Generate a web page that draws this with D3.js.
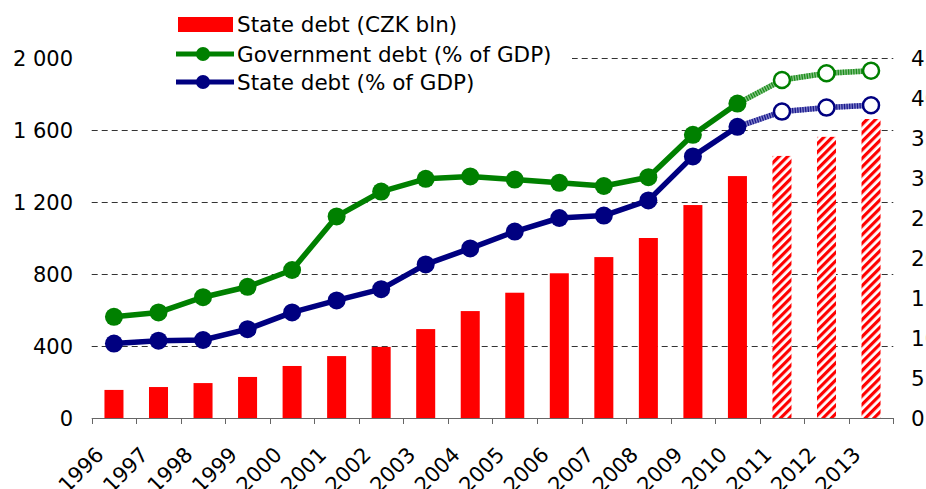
<!DOCTYPE html>
<html><head><meta charset="utf-8">
<script src="https://cdn.jsdelivr.net/npm/d3@7"></script>
<style>
html,body{margin:0;padding:0;background:#fff;overflow:hidden}
text{font-family:"DejaVu Sans",Verdana,sans-serif;fill:#000}
</style></head>
<body>
<svg id="chart" width="926" height="489"></svg>
<script>
const years = ["1996","1997","1998","1999","2000","2001","2002","2003","2004","2005","2006","2007","2008","2009","2010","2011","2012","2013"];
const forecastYears = ["2011","2012","2013"];
const stateDebtCZK = [156,172,194,228,289,344,395,494,594,696,804,894,1000,1183,1344,1456,1562,1661];
const govDebtPct = [12.65,13.2,15.1,16.4,18.5,25.2,28.3,29.9,30.2,29.8,29.4,29.0,30.1,35.4,39.3,42.25,43.1,43.4];
const stateDebtPct = [9.3,9.66,9.75,11.1,13.2,14.7,16.1,19.2,21.2,23.3,25.0,25.3,27.2,32.7,36.4,38.3,38.8,39.1];
const leftTicks = [0,400,800,1200,1600,2000];
const rightTicks = [0,5,10,15,20,25,30,35,40,45];
const legendLabels = ["State debt (CZK bln)","Government debt (% of GDP)","State debt (% of GDP)"];

const svg = d3.select("#chart");
const x0 = 91.7, x1 = 893.3, yTop = 58, yBot = 418;

const x = d3.scaleBand().domain(years).range([x0, x1]).paddingInner(0.573).paddingOuter(0.2865);
const yL = d3.scaleLinear().domain([0, 2000]).range([yBot, yTop]);
const yR = d3.scaleLinear().domain([0, 45]).range([yBot, yTop]);
const cx = d => x(d) + x.bandwidth() / 2;
const step = x.step();

const defs = svg.append("defs");
const pat = defs.append("pattern").attr("id","hatch").attr("patternUnits","userSpaceOnUse")
  .attr("width",6).attr("height",6).attr("patternTransform","rotate(45)");
pat.append("rect").attr("width",6).attr("height",6).attr("fill","#fff");
pat.append("rect").attr("width",3.2).attr("height",6).attr("fill","#ff0000");

// gridlines
svg.append("g").selectAll("line").data(leftTicks.filter(d => d > 0)).join("line")
  .attr("x1", x0).attr("x2", x1).attr("y1", d => Math.round(yL(d)) + 0.5).attr("y2", d => Math.round(yL(d)) + 0.5)
  .attr("stroke", "#333").attr("stroke-width", 1).attr("stroke-dasharray", "6 4");

// bars
svg.append("g").selectAll("rect").data(years).join("rect")
  .attr("x", d => x(d)).attr("width", x.bandwidth())
  .attr("y", (d, i) => yL(stateDebtCZK[i])).attr("height", (d, i) => yBot - yL(stateDebtCZK[i]))
  .attr("fill", d => forecastYears.includes(d) ? "url(#hatch)" : "#ff0000");

// x axis
const ax = svg.append("g");
ax.append("line").attr("x1", x0).attr("x2", x1).attr("y1", yBot + 0.5).attr("y2", yBot + 0.5).attr("stroke", "#666").attr("stroke-width", 1);
const tickXs = d3.range(years.length + 1).map(i => x0 + i * step);
ax.selectAll("line.tk").data(tickXs).join("line").attr("class","tk")
  .attr("x1", d => Math.round(d) + 0.5).attr("x2", d => Math.round(d) + 0.5)
  .attr("y1", yBot).attr("y2", yBot + 6).attr("stroke", "#666").attr("stroke-width", 1);
ax.selectAll("text").data(years).join("text")
  .attr("transform", d => `translate(${cx(d) - 9},${456}) rotate(-45)`)
  .attr("text-anchor", "end").attr("font-size", 21).text(d => d);

// left axis labels
svg.append("g").selectAll("text").data(leftTicks).join("text")
  .attr("x", 73).attr("y", d => yL(d)).attr("dy", "0.36em").attr("text-anchor", "end")
  .attr("font-size", 21).text(d => d3.format(",")(d).replace(/,/g, "\u00a0"));
// right axis labels
svg.append("g").selectAll("text").data(rightTicks).join("text")
  .attr("x", 911).attr("y", d => yR(d)).attr("dy", "0.36em").attr("text-anchor", "start")
  .attr("font-size", 21.5).text(d => d);

// lines
function drawSeries(vals, color, lightColor) {
  const g = svg.append("g");
  const pts = years.map((d, i) => ({ d, v: vals[i], f: forecastYears.includes(d) }));
  const line = d3.line().x(p => cx(p.d)).y(p => yR(p.v));
  const actual = pts.filter(p => !p.f);
  const fc = [actual[actual.length - 1]].concat(pts.filter(p => p.f));
  g.append("path").attr("d", line(fc)).attr("fill", "none").attr("stroke", lightColor).attr("stroke-width", 5.5);
  g.append("path").attr("d", line(fc)).attr("fill", "none").attr("stroke", color).attr("stroke-width", 5.5)
    .attr("stroke-dasharray", "1.3 1.3").attr("opacity", 0.8);
  g.append("path").attr("d", line(actual)).attr("fill", "none").attr("stroke", color).attr("stroke-width", 5.5).attr("stroke-linejoin","round");
  g.selectAll("circle.a").data(actual).join("circle").attr("class","a")
    .attr("cx", p => cx(p.d)).attr("cy", p => yR(p.v)).attr("r", 9).attr("fill", color);
  g.selectAll("circle.f").data(pts.filter(p => p.f)).join("circle").attr("class","f")
    .attr("cx", p => cx(p.d)).attr("cy", p => yR(p.v)).attr("r", 8).attr("fill", "#fff").attr("stroke", color).attr("stroke-width", 2.5);
}
drawSeries(govDebtPct, "#008000", "#86c386");
drawSeries(stateDebtPct, "#000080", "#8080c8");

// legend
const lg = svg.append("g");
lg.append("rect").attr("x", 88).attr("y", 4).attr("width", 484).attr("height", 100).attr("fill", "#fff");
lg.append("rect").attr("x", 178).attr("y", 17).attr("width", 55).attr("height", 15).attr("fill", "#ff0000");
[["#008000", 54], ["#000080", 82]].forEach(([c, yy]) => {
  lg.append("line").attr("x1", 176).attr("x2", 234).attr("y1", yy).attr("y2", yy).attr("stroke", c).attr("stroke-width", 5);
  lg.append("circle").attr("cx", 203).attr("cy", yy).attr("r", 7).attr("fill", c);
});
lg.selectAll("text").data(legendLabels).join("text")
  .attr("x", 237).attr("y", (d, i) => [24.5, 54, 82][i]).attr("dy", "0.36em")
  .attr("font-size", 21.5).text(d => d);
</script>
</body></html>
